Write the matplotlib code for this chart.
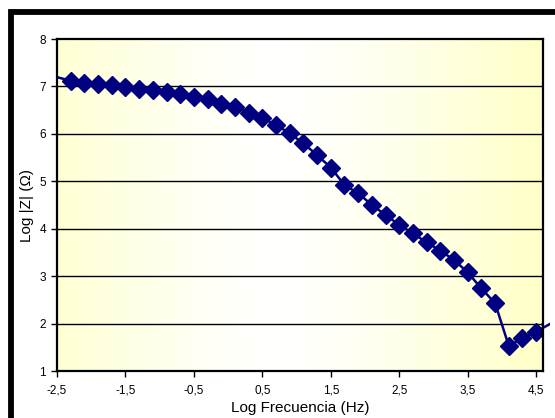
import numpy as np
import matplotlib
matplotlib.use("Agg")
from matplotlib import pyplot as plt
from matplotlib.patches import Rectangle

# Log frecuencia (Hz) vs Log |Z|
log_f = [-2.7, -2.3, -2.1, -1.9, -1.7, -1.5, -1.3, -1.1, -0.9, -0.7, -0.5,
         -0.3, -0.1, 0.1, 0.3, 0.5, 0.7, 0.9, 1.1, 1.3, 1.5, 1.7, 1.9,
         2.1, 2.3, 2.5, 2.7, 2.9, 3.1, 3.3, 3.5, 3.7, 3.9, 4.1, 4.3, 4.5, 4.7]
log_z = [7.27, 7.12, 7.08, 7.05, 7.02, 6.99, 6.95, 6.92, 6.88, 6.84, 6.78,
         6.73, 6.64, 6.56, 6.45, 6.33, 6.19, 6.01, 5.80, 5.55, 5.29, 4.92, 4.75,
         4.50, 4.29, 4.08, 3.90, 3.71, 3.54, 3.34, 3.08, 2.74, 2.43, 1.53, 1.69, 1.83, 1.99]
xticks = [-2.5, -1.5, -0.5, 0.5, 1.5, 2.5, 3.5, 4.5]
yticks = [1, 2, 3, 4, 5, 6, 7, 8]

plt.rcParams['font.family'] = ['Liberation Sans', 'DejaVu Sans']

fig = plt.figure(figsize=(5.55, 4.18), dpi=100)
fig.patch.set_facecolor('white')

# marco negro exterior
fig.patches.append(Rectangle((11/555, -0.1), 1.2, 1 - 11.5/418 + 0.1, transform=fig.transFigure,
                             fill=False, edgecolor='black', linewidth=4.2, zorder=0))

ax = fig.add_axes([57/555, 1 - 371/418, (543 - 57)/555, (371 - 39)/418])
ax.set_xlim(-2.5, 4.6)
ax.set_ylim(1, 8)

# fondo degradado amarillo-blanco-amarillo
xs = np.linspace(0, 1, 300)
t = np.abs(xs - 0.45) / 0.55
t = np.clip(t, 0, 1) ** 1.3
yel = np.array([1.0, 1.0, 0.78])
wht = np.array([1.0, 1.0, 1.0])
grad = wht[None, :] * (1 - t[:, None]) + yel[None, :] * t[:, None]
ax.imshow(grad[None, :, :], extent=[-2.5, 4.6, 1, 8], aspect='auto', zorder=0)

for yv in yticks[1:-1]:
    ax.axhline(yv, color='black', linewidth=1.0, zorder=1)

ln, = ax.plot(log_f, log_z, color='#000080', linewidth=1.8, zorder=3)
clip = Rectangle((0, 0), 1.015, 1, transform=ax.transAxes)
ln.set_clip_path(clip)
ax.plot(log_f, log_z, linestyle='none', marker='D', markersize=9.3,
        color='#000080', markeredgecolor='#000080', zorder=4)

ax.set_xticks(xticks)
ax.set_xticklabels([f"{v:.1f}".replace('.', ',') for v in xticks])
ax.set_yticks(yticks)
ax.set_yticklabels([str(v) for v in yticks])
ax.tick_params(direction='out', length=4, width=1, labelsize=8.5, pad=4, colors='black')
ax.tick_params(axis='x', pad=6)

for s in ax.spines.values():
    s.set_linewidth(1.6)
    s.set_color('black')
    s.set_zorder(5)

ax.set_xlabel('Log Frecuencia (Hz)', fontsize=11, labelpad=3)
ax.set_ylabel('Log |Z| (\u03a9)', fontsize=11, labelpad=4)

fig.savefig('out.png', dpi=100)
